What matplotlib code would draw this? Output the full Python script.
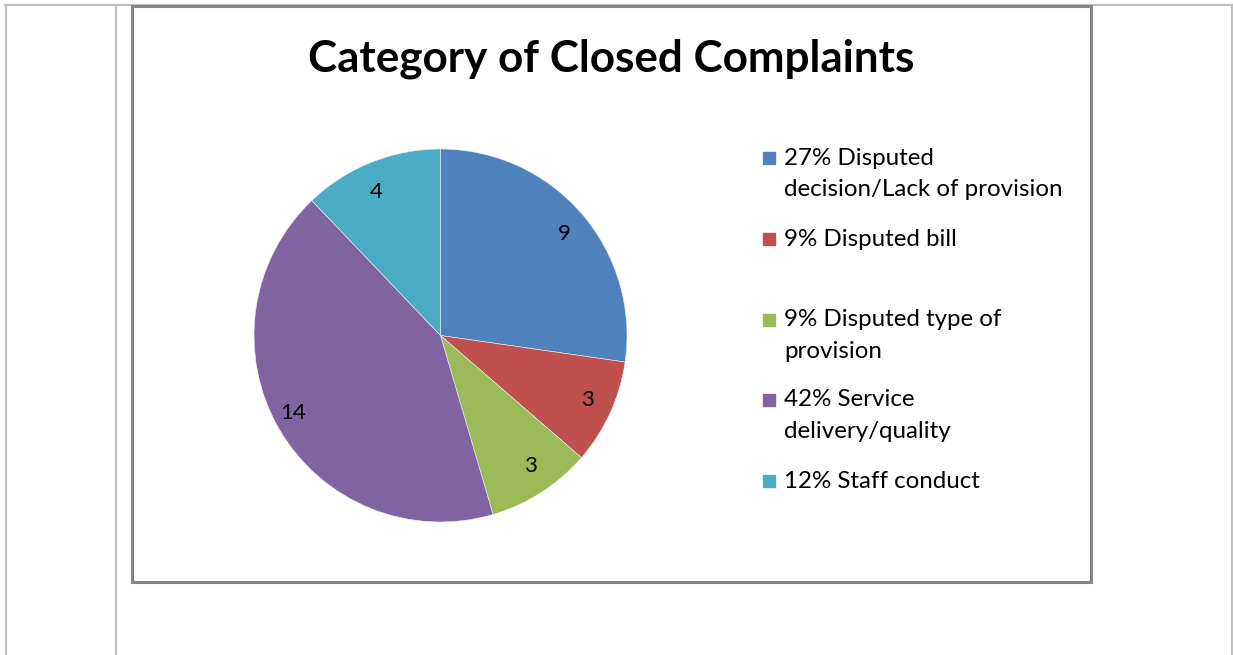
import matplotlib
matplotlib.use("Agg")
import matplotlib.pyplot as plt
from matplotlib.patches import Rectangle
from matplotlib.lines import Line2D

# ---- data ----
categories = ["Disputed\ndecision/Lack of provision", "Disputed bill",
              "Disputed type of\nprovision", "Service\ndelivery/quality",
              "Staff conduct"]
values = [9, 3, 3, 14, 4]
percents = [27, 9, 9, 42, 12]
colors = ["#4F81BD", "#C0504D", "#9BBB59", "#8064A2", "#4BACC6"]
title = "Category of Closed Complaints"

W, H = 1233, 655
FONT = ["Lato", "DejaVu Sans"]

fig = plt.figure(figsize=(W / 100, H / 100), dpi=100)
fig.patch.set_facecolor("white")


def fx(x):
    return x / W


def fy(y):
    return 1 - y / H


# table cell lines (light gray)
lc = "#C0C0C0"
for (x0, y0, x1, y1) in [(5, 4.5, W, 4.5), (5.5, 4.5, 5.5, H), (115.5, 4.5, 115.5, H),
                         (1231.5, 4.5, 1231.5, H)]:
    fig.add_artist(Line2D([fx(x0), fx(x1)], [fy(y0), fy(y1)], color=lc, lw=1.6,
                          transform=fig.transFigure))

# chart frame
fig.add_artist(Line2D([fx(131.5), fx(131.5), fx(1091), fx(1091), fx(131.5)],
                      [fy(6), fy(581.5), fy(581.5), fy(6), fy(6)],
                      color="#868686", lw=2.2, transform=fig.transFigure,
                      solid_joinstyle="miter"))

# pie
cx, cy, r = 440.5, 335.5, 186.5
ax = fig.add_axes([fx(cx - r), fy(cy + r), 2 * r / W, 2 * r / H])
wedges, texts = ax.pie(values, colors=colors, startangle=90, counterclock=False,
                       labels=[str(v) for v in values], labeldistance=0.83,
                       wedgeprops=dict(linewidth=0.4, edgecolor="#f0f0f0"),
                       textprops=dict(fontsize=16, family=FONT, color="black"))
ax.set_xlim(-1, 1)
ax.set_ylim(-1, 1)
ax.set_aspect("equal")
ax.axis("off")

renderer = fig.canvas.get_renderer()


def fit(t, target_w):
    fs = t.get_fontsize()
    w = t.get_window_extent(renderer).width
    t.set_fontsize(fs * target_w / w)


# title
t = fig.text(fx(611.5), fy(59), title, ha="center", va="center",
             fontsize=30, fontweight="bold", family=FONT)
fit(t, 607)

# legend
ys = [158, 239, 320, 400, 481]
probe = fig.text(0, 0, "decision/Lack of provision", fontsize=14, family=FONT)
fit(probe, 280)
lfs = probe.get_fontsize()
probe.remove()
for i, (cat, p, c) in enumerate(zip(categories, percents, colors)):
    y = ys[i]
    fig.add_artist(Rectangle((fx(763), fy(y + 6)), 12 / W, 12 / H, color=c,
                             transform=fig.transFigure))
    lines = f"{p}% {cat}".split("\n")
    for j, ln in enumerate(lines):
        fig.text(fx(784), fy(y + 32 * j), ln, ha="left", va="center",
                 fontsize=lfs, family=FONT, color="black")

fig.savefig("out.png", dpi=100, facecolor="white")
